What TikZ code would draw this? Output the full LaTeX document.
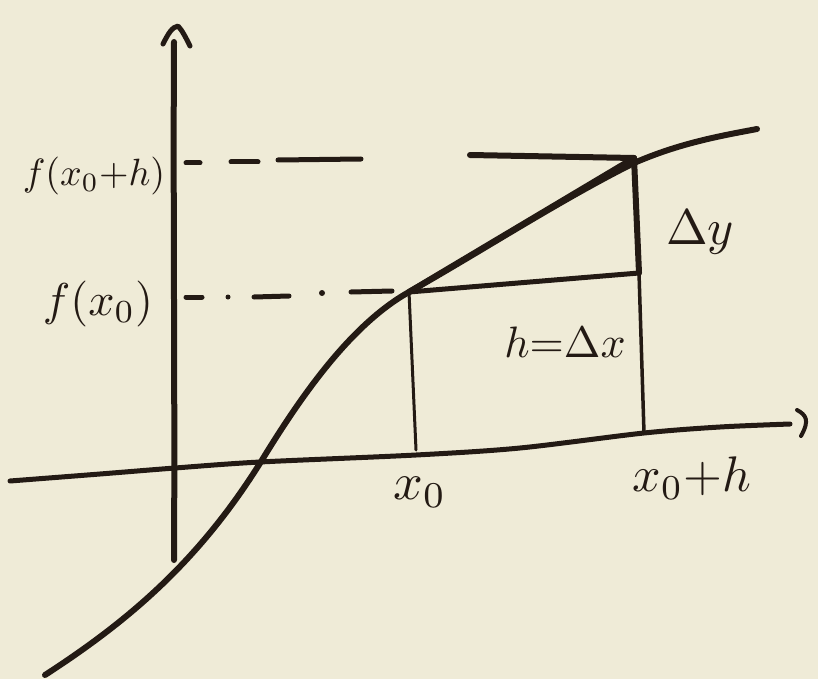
\documentclass[tikz,border=0pt]{standalone}
\usepackage{graphicx}
\usepackage{tikz}
\definecolor{paper}{RGB}{239,235,215}
\definecolor{inkc}{RGB}{35,26,20}
\begin{document}
\begin{tikzpicture}[x=1pt,y=-1pt,
  ink/.style={draw=inkc, line width=6pt, line cap=round, line join=round},
  thinink/.style={draw=inkc, line width=3pt, line cap=round},
  lbl/.style={text=inkc, inner sep=0pt}]
\fill[paper] (0,0) rectangle (818,679);
\useasboundingbox (0,0) rectangle (818,679);

% key points
\coordinate (yb) at (174,560);
\coordinate (yt) at (174,42);
\coordinate (P0) at (409,292);
\coordinate (P1) at (634,158);
\coordinate (Q) at (639,273);
\coordinate (A0) at (416,450);
\coordinate (A1) at (644,433);
\coordinate (T0) at (470,155);
\coordinate (C0) at (45,675);
\coordinate (C1) at (262,460);
\coordinate (C2) at (634,163);
\coordinate (C3) at (757,129);

% y axis
\draw[ink] (yb) .. controls (175,400) and (173,200) .. (yt);
\draw[ink, line width=5pt] (163,44) .. controls (168,34) and (172,27) .. (178,26) .. controls (182,30) and (186,38) .. (190,46);

% x axis
\draw[ink, line width=5pt] plot[smooth] coordinates {(10,481) (100,474) (175,468) (260,462) (416,455) (520,448) (644,433) (720,427) (790,424)};
\draw[ink, line width=4pt] (797,410) .. controls (806,415) and (810,420) .. (801,436);

% curve
\draw[ink] (C0) .. controls (130,620) and (200,560) .. (C1)
  .. controls (300,398) and (350,325) .. (P0)
  .. controls (480,252) and (560,200) .. (C2)
  .. controls (680,143) and (720,136) .. (C3);
% secant
\draw[ink] (P0) -- (P1);
% top horizontal
\draw[ink] (T0) -- (P1);

% dashed at f(x0+h)
\draw[ink, line width=5pt] (186,163) -- (200,163);
\draw[ink, line width=5pt] (231,162) -- (258,162);
\draw[ink, line width=5pt] (278,160) -- (361,159);
% dash-dot at f(x0)
\draw[ink, line width=5pt] (186,297) -- (202,297);
\fill[inkc] (228,297) circle (2.5pt);
\draw[ink, line width=5pt] (254,297) -- (289,296);
\fill[inkc] (322,293) circle (3pt);
\draw[ink, line width=5pt] (351,292) -- (392,291);

% rectangle lines
\draw[thinink] (P0) -- (A0);
\draw[ink, line width=5pt] (P0) -- (Q);
\draw[ink] (P1) -- (Q);
\draw[thinink, line width=3.5pt] (Q) -- (A1);

% labels
\node[lbl] (lfh) at (94,176) {\scalebox{3.8}{$f(x_0{+}h)$}};
\node[lbl] (lf0) at (98,304) {\scalebox{4.6}{$f(x_0)$}};
\node[lbl] (ldy) at (700,232) {\scalebox{5}{$\Delta y$}};
\node[lbl] (ldx) at (565,342) {\scalebox{4.4}{$h{=}\Delta x$}};
\node[lbl] (lx0) at (420,492) {\scalebox{5.2}{$x_0$}};
\node[lbl] (lx1) at (692,478) {\scalebox{5}{$x_0{+}h$}};
\end{tikzpicture}
\end{document}
